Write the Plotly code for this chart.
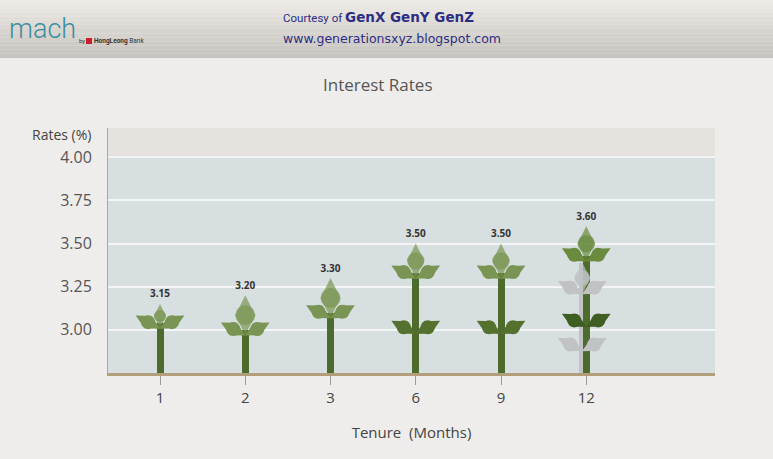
import plotly.graph_objects as go

tenure = ["1", "2", "3", "6", "9", "12"]
rates = [3.15, 3.20, 3.30, 3.50, 3.50, 3.60]
# where the top leaf meets the stem
upper_joint = [3.01, 2.97, 3.07, 3.30, 3.30, 3.40]
# second pair of leaves (only on the taller plants)
lower_joint = [None, None, None, 2.98, 2.98, 3.02]
# faded shadow plant behind the 12 month one
ghost_top = [3.39]
ghost_joint = [3.21]
ghost_lower = [2.88]
y_ticks = [3.00, 3.25, 3.50, 3.75, 4.00]

Y0, Y1 = 2.75, 4.17
X0, X1 = -0.61, 6.51
W, H = 773, 459
L, R, T, B = 108, 58, 128, 86
PX_Y = (H - T - B) / (Y1 - Y0)   # pixels per rate unit
PX_X = (W - L - R) / (X1 - X0)   # pixels per category step

xs = list(range(len(tenure)))
ghost_x = [xs[-1] - 4 / PX_X]

LEAF = 20
dx = 12 / PX_X
dy = 6 / PX_Y


def leaf_traces(x, y, size, angle, color):
    # a leaf = pointed diamond plus a slightly rounder belly
    belly = [s * 0.7 for s in size] if isinstance(size, list) else size * 0.7
    return [
        go.Scatter(x=x, y=y, mode="markers", hoverinfo="skip",
                   marker=dict(symbol="diamond-tall", size=size, angle=angle,
                               color=color, line=dict(width=0))),
        go.Scatter(x=x, y=y, mode="markers", hoverinfo="skip",
                   marker=dict(symbol="circle", size=belly, color=color, line=dict(width=0))),
    ]


def side_leaves(x, y, color):
    pts = [(xi, yi) for xi, yi in zip(x, y) if yi is not None]
    xx, yy, ang = [], [], []
    for xi, yi in pts:
        xx += [xi - dx, xi + dx]
        yy += [yi + dy, yi + dy]
        ang += [-62, 62]
    return leaf_traces(xx, yy, LEAF, ang, color)


fig = go.Figure()

# shadow plant
ghost_col = "rgb(192,194,195)"
fig.add_trace(go.Bar(x=ghost_x, y=[t - Y0 for t in ghost_top], base=Y0, width=7 / PX_X,
                     marker=dict(color=ghost_col, line=dict(width=0)), hoverinfo="skip"))
fig.add_traces(leaf_traces(ghost_x, [(t + j) / 2 for t, j in zip(ghost_top, ghost_joint)],
                           [(t - j) * PX_Y / 1.4 for t, j in zip(ghost_top, ghost_joint)], 0, ghost_col))
fig.add_traces(side_leaves(ghost_x, ghost_joint, ghost_col))
fig.add_traces(side_leaves(ghost_x, ghost_lower, ghost_col))

# stems
fig.add_trace(go.Bar(x=xs, y=[j + 0.03 - Y0 for j in upper_joint], base=Y0, width=7 / PX_X,
                     marker=dict(color="#4c6b2c", line=dict(width=0)), hoverinfo="skip"))

# leaves
upper_col = ["#7a9553"] * 5 + ["#6a8b3e"]
fig.add_traces(leaf_traces(xs, [(r + j) / 2 for r, j in zip(rates, upper_joint)],
                           [(r - j) * PX_Y / 1.4 for r, j in zip(rates, upper_joint)], 0, upper_col))
fig.add_traces(side_leaves(xs[:5], upper_joint[:5], "#7a9553"))
fig.add_traces(side_leaves(xs[5:], upper_joint[5:], "#6a8b3e"))
fig.add_traces(side_leaves(xs[:5], lower_joint[:5], "#55712f"))
fig.add_traces(side_leaves(xs[5:], lower_joint[5:], "#3f5e21"))

# value labels
fig.add_trace(go.Scatter(x=xs, y=[r + 4 / PX_Y for r in rates], mode="text",
                         text=[f"{r:.2f}" for r in rates],
                         textposition="top center", hoverinfo="skip",
                         textfont=dict(family="Open Sans", size=10, color="#333333", weight="bold")))


def py(p):
    return (H - B - p) / (H - T - B)


def px(p):
    return (p - L) / (W - L - R)


shapes = []
# header band with a soft vertical gradient
n = 14
for i in range(n):
    t = i / (n - 1)
    c = tuple(int(a + (b - a) * t) for a, b in zip((237, 234, 231), (199, 195, 191)))
    shapes.append(dict(type="rect", xref="paper", yref="paper", layer="below",
                       x0=px(0), x1=px(W), y0=py(58 * (i + 1) / n), y1=py(58 * i / n),
                       fillcolor="rgb(%d,%d,%d)" % c, line=dict(width=0)))
# beige strip at the top of the plot area
shapes.append(dict(type="rect", xref="paper", yref="y", layer="below", x0=0, x1=1,
                   y0=4.01, y1=Y1, fillcolor="#e6e3df", line=dict(width=0)))
# little red logo mark
shapes.append(dict(type="rect", xref="paper", yref="paper", x0=px(86), x1=px(92),
                   y0=py(44), y1=py(38), fillcolor="#c8202a", line=dict(width=0)))

annotations = [
    dict(text="mach", xref="paper", yref="paper", x=px(7), y=py(29), xanchor="left",
         yanchor="middle", showarrow=False,
         font=dict(family="Roboto", size=27, color="#3c8ea1", weight=300)),
    dict(text="by", xref="paper", yref="paper", x=px(77), y=py(41), xanchor="left",
         yanchor="middle", showarrow=False, font=dict(family="Roboto", size=6, color="#333")),
    dict(text="<b>HongLeong</b> Bank", xref="paper", yref="paper", x=px(92), y=py(41),
         xanchor="left", yanchor="middle", showarrow=False,
         font=dict(family="Roboto", size=6.5, color="#333")),
    dict(text="<span style='font-family:Roboto;font-size:11.5px'>Courtesy of </span>"
              "<b>GenX GenY GenZ</b>",
         xref="paper", yref="paper", x=px(281), y=py(17), xanchor="left",
         yanchor="middle", showarrow=False,
         font=dict(family="DejaVu Sans", size=13.5, color="#2c2d82")),
    dict(text="www.generationsxyz.blogspot.com", xref="paper", yref="paper", x=px(281),
         y=py(38), xanchor="left", yanchor="middle", showarrow=False,
         font=dict(family="DejaVu Sans", size=12.5, color="#2c2d82")),
    dict(text="Interest Rates", xref="paper", yref="paper", x=px(378), y=py(85),
         xanchor="center", yanchor="middle", showarrow=False,
         font=dict(family="Open Sans", size=17, color="#555555")),
    dict(text="Rates (%)", xref="paper", yref="paper", x=0, xshift=-15, y=py(134),
         xanchor="right", yanchor="middle", showarrow=False,
         font=dict(family="Open Sans", size=14, color="#444444")),
]

fig.update_layout(
    width=W, height=H, margin=dict(l=L, r=R, t=T, b=B),
    paper_bgcolor="#efedeb", plot_bgcolor="#d8dfe1",
    showlegend=False, barmode="overlay", bargap=0,
    shapes=shapes, annotations=annotations,
    xaxis=dict(range=[X0, X1], tickvals=xs, ticktext=tenure, showgrid=False, zeroline=False,
               showline=True, linecolor="#b39e7c", linewidth=3,
               ticks="outside", ticklen=9, tickwidth=1, tickcolor="#9a9a9a",
               tickfont=dict(family="Open Sans", size=15, color="#444444"),
               title=dict(text="Tenure  (Months)", standoff=22,
                          font=dict(family="Open Sans", size=15, color="#444444"))),
    yaxis=dict(range=[Y0, Y1], tickvals=y_ticks, ticktext=[f"{v:.2f}" for v in y_ticks],
               showgrid=True, gridcolor="#f4f6f6", gridwidth=2, zeroline=False,
               showline=True, linecolor="#a8a8a8", linewidth=1, ticks="",
               ticklabelstandoff=12,
               tickfont=dict(family="Open Sans", size=16, color="#555555")),
)

fig.write_html("out.html", config={"displayModeBar": False},
               post_script="document.body.style.margin='0';")
